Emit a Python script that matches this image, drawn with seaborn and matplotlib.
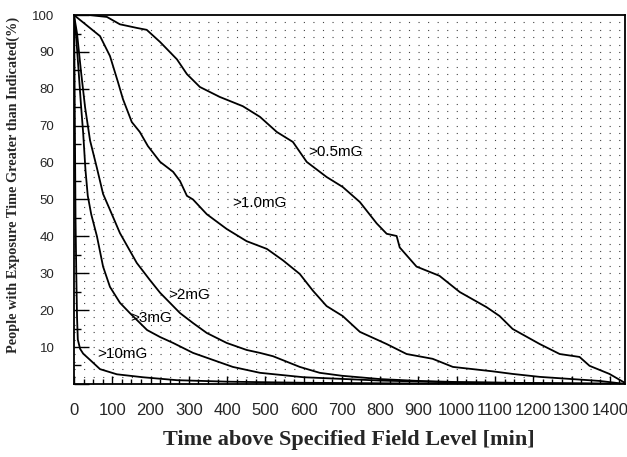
import numpy as np
import pandas as pd
import matplotlib
matplotlib.use("Agg")
import matplotlib.pyplot as plt
from matplotlib.ticker import MultipleLocator
import seaborn as sns

# ---- data ----
x_05 = [0, 40, 86, 120, 165, 190, 225, 269, 295, 329, 381, 441, 486, 530, 572, 608, 660, 702,
        747, 791, 817, 843, 851, 895, 955, 1008, 1078, 1112, 1146, 1217, 1269, 1321, 1347, 1399, 1439]
y_05 = [100, 100, 99.5, 97.5, 96.5, 96, 92.7, 88, 84, 80.5, 77.8, 75.3, 72.4, 68.3, 65.6, 60.2, 56.1, 53.4,
        49.3, 43.5, 40.7, 40.1, 37, 31.8, 29.3, 24.9, 20.8, 18.4, 14.9, 10.8, 8.1, 7.3, 4.9, 2.7, 0.3]

x_10 = [0, 24, 68, 94, 115, 128, 151, 172, 193, 225, 259, 277, 295, 311, 347, 399, 451, 504, 546,
        590, 624, 660, 702, 747, 817, 869, 937, 990, 1094, 1146, 1217, 1373, 1439]
y_10 = [100, 98, 94.3, 88.9, 81.8, 77.2, 71, 68.3, 64.5, 60.2, 57.5, 55, 51, 50, 46, 42, 38.7, 36.6, 33.5,
        29.8, 25.3, 21.1, 18.4, 14.1, 10.8, 8.1, 6.8, 4.6, 3.4, 2.7, 1.9, 0.8, 0]

x_2 = [0, 8, 18, 29, 42, 60, 76, 94, 120, 164, 198, 225, 277, 311, 347, 399, 451, 486, 520, 590,
       642, 700, 800, 900, 1000, 1200, 1439]
y_2 = [100, 95, 85, 75, 66, 58.5, 51.5, 47.2, 40.9, 32.8, 28.2, 24.7, 19.2, 16.5, 13.8, 11.1, 9.2, 8.4, 7.5, 4.6,
       3.0, 2.2, 1.3, 0.8, 0.5, 0.2, 0]

x_3 = [0, 5, 12, 18, 24, 30, 36, 45, 60, 76, 94, 120, 146, 191, 225, 259, 311, 363, 415, 486,
       600, 800, 1000, 1439]
y_3 = [100, 95, 85, 76, 68, 58, 51, 46, 40, 31.8, 26.3, 22, 19.2, 14.6, 12.7, 11.1, 8.4, 6.5, 4.6, 3.0,
       1.8, 0.9, 0.4, 0]

x_100 = [0, 1, 2, 3, 4, 6, 8, 10, 16, 24, 42, 68, 112, 180, 269, 400, 600, 900, 1439]
y_100 = [100, 90, 75, 60, 45, 30, 18, 12, 9.5, 8.2, 6.5, 4, 2.6, 1.8, 1.0, 0.6, 0.3, 0.1, 0]

series_labels = [">0.5mG", ">1.0mG", ">2mG", ">3mG", ">10mG"]
label_x = [611, 413, 245, 146, 60]
label_y = [62.9, 49, 24.1, 17.9, 8.1]

x_ticks = list(range(0, 1401, 100))
y_ticks = list(range(0, 101, 10))

frames = []
for name, xs, ys in zip(series_labels, [x_05, x_10, x_2, x_3, x_100], [y_05, y_10, y_2, y_3, y_100]):
    frames.append(pd.DataFrame({"time": xs, "pct": ys, "level": name}))
df = pd.concat(frames, ignore_index=True)

sns.set_theme(style="white")
plt.rcParams["font.family"] = ["Liberation Sans", "DejaVu Sans"]

fig = plt.figure(figsize=(6.27, 4.57), dpi=100)
ax = fig.add_axes([0.118, 0.16, 0.879, 0.807])

# dotted background grid
for gy in np.arange(2, 100, 2):
    ax.axhline(gy, color="#444444", lw=0.8, linestyle=(0, (1, 7.6)), zorder=0)

for name in series_labels:
    sub = df[df["level"] == name]
    sns.lineplot(data=sub, x="time", y="pct", ax=ax, color="black", lw=1.3,
                 estimator=None, sort=False, legend=False)

for t, lx, ly in zip(series_labels, label_x, label_y):
    ax.text(lx, ly, t, fontsize=11, color="black", ha="left", va="center")

ax.set_xlim(0, 1440)
ax.set_ylim(0, 100)
ax.set_xticks(x_ticks)
ax.set_xticklabels([str(v) for v in x_ticks], fontsize=12)
ax.set_yticks(y_ticks)
ylabs = [str(v) for v in y_ticks]
ylabs[0] = ""
ax.set_yticklabels(ylabs, fontsize=9.5)
ax.xaxis.set_minor_locator(MultipleLocator(25))
ax.yaxis.set_minor_locator(MultipleLocator(5))
ax.tick_params(axis="y", which="major", direction="in", length=11, width=1.0, color="black", pad=14, left=True)
ax.tick_params(axis="y", which="minor", direction="in", length=5, width=1.0, color="black", left=True)
ax.tick_params(axis="x", which="major", direction="in", length=6, width=1.0, color="black", pad=14, bottom=True)
ax.tick_params(axis="x", which="minor", direction="in", length=3.5, width=1.0, color="black", bottom=True)

for sp in ax.spines.values():
    sp.set_visible(True)
    sp.set_color("black")
    sp.set_linewidth(1.3)

ax.set_xlabel("Time above Specified Field Level [min]", fontsize=16, fontweight="bold",
              family=["Liberation Serif", "DejaVu Serif"])
ax.xaxis.set_label_coords(0.499, -0.152)
ax.xaxis.label.set_va("center")
ax.set_ylabel("People with Exposure Time Greater than Indicated(%)", fontsize=10.3, fontweight="bold",
              family=["Liberation Serif", "DejaVu Serif"])
ax.yaxis.set_label_coords(-0.111, 0.539)
ax.yaxis.label.set_va("center")

fig.savefig("out.png", dpi=100)
